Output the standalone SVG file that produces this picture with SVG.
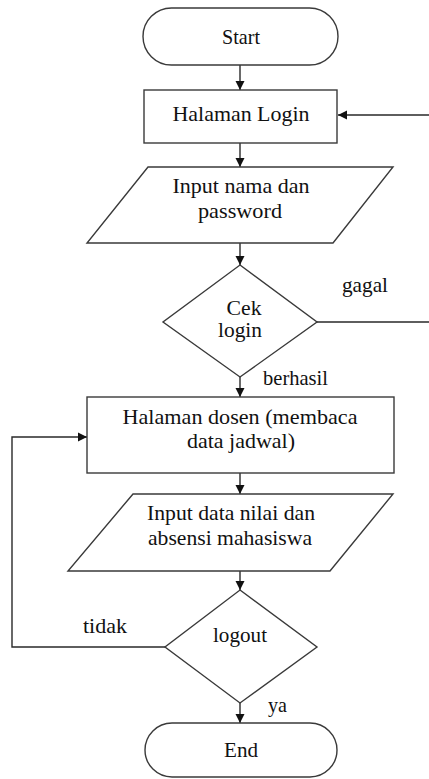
<svg xmlns="http://www.w3.org/2000/svg" width="429" height="779" viewBox="0 0 429 779">
<style>
.s{fill:#fff;stroke:#3a3a3a;stroke-width:1.4}
.c{fill:none;stroke:#2a2a2a;stroke-width:1.4}
.t{font-family:'Liberation Serif','DejaVu Serif',serif;font-size:21px;fill:#111;text-anchor:middle}
.l{text-anchor:start}
</style>
<defs>
<marker id="ah" markerWidth="10" markerHeight="10" refX="9" refY="5" orient="auto" markerUnits="userSpaceOnUse">
<path d="M0,0.5 L9,5 L0,9.5 Z" fill="#111"/>
</marker>
</defs>
<rect width="429" height="779" fill="#fff"/>
<g id="connectors">
<line class="c" x1="240" y1="65" x2="240" y2="90" marker-end="url(#ah)"/>
<line class="c" x1="240" y1="143" x2="240" y2="167" marker-end="url(#ah)"/>
<line class="c" x1="240" y1="243" x2="240" y2="265" marker-end="url(#ah)"/>
<line class="c" x1="240" y1="377" x2="240" y2="397" marker-end="url(#ah)"/>
<line class="c" x1="240" y1="473" x2="240" y2="494" marker-end="url(#ah)"/>
<line class="c" x1="240" y1="571" x2="240" y2="590" marker-end="url(#ah)"/>
<line class="c" x1="240" y1="703" x2="240" y2="723" marker-end="url(#ah)"/>
<path class="c" d="M317 322 H432 V115 H338" marker-end="url(#ah)"/>
<path class="c" d="M165 647 H12 V437 H87" marker-end="url(#ah)"/>
<text class="t l" x="342" y="292" textLength="46" lengthAdjust="spacingAndGlyphs">gagal</text>
<text class="t l" x="263" y="385" textLength="65" lengthAdjust="spacingAndGlyphs">berhasil</text>
<text class="t l" x="83" y="633" textLength="44" lengthAdjust="spacingAndGlyphs">tidak</text>
<text class="t l" x="268" y="712" textLength="19" lengthAdjust="spacingAndGlyphs">ya</text>
</g>
<g id="start">
<rect class="s" x="143" y="8" width="195" height="57" rx="28.5" ry="28.5"/>
<text class="t" x="241" y="44" textLength="38" lengthAdjust="spacingAndGlyphs">Start</text>
</g>
<g id="halaman-login">
<rect class="s" x="144" y="90" width="193" height="53"/>
<text class="t" x="241" y="121" textLength="137" lengthAdjust="spacingAndGlyphs">Halaman Login</text>
</g>
<g id="input-login">
<polygon class="s" points="148,167 393,167 333,243 87,243"/>
<text class="t" x="241" y="193" textLength="137" lengthAdjust="spacingAndGlyphs">Input nama dan</text>
<text class="t" x="240" y="218" textLength="84" lengthAdjust="spacingAndGlyphs">password</text>
</g>
<g id="cek-login">
<polygon class="s" points="240,265 317,322 240,377 163,322"/>
<text class="t" x="244" y="315" textLength="35" lengthAdjust="spacingAndGlyphs">Cek</text>
<text class="t" x="240" y="337" textLength="44" lengthAdjust="spacingAndGlyphs">login</text>
</g>
<g id="halaman-dosen">
<rect class="s" x="87" y="397" width="307" height="76"/>
<text class="t" x="240" y="424" textLength="235" lengthAdjust="spacingAndGlyphs">Halaman dosen (membaca</text>
<text class="t" x="241" y="448" textLength="108" lengthAdjust="spacingAndGlyphs">data jadwal)</text>
</g>
<g id="input-nilai">
<polygon class="s" points="133,494 393,494 330,571 68,571"/>
<text class="t" x="231" y="520" textLength="168" lengthAdjust="spacingAndGlyphs">Input data nilai dan</text>
<text class="t" x="230" y="545" textLength="164" lengthAdjust="spacingAndGlyphs">absensi mahasiswa</text>
</g>
<g id="logout">
<polygon class="s" points="240,590 317,647 240,703 165,647"/>
<text class="t" x="240" y="642" textLength="54" lengthAdjust="spacingAndGlyphs">logout</text>
</g>
<g id="end">
<rect class="s" x="145" y="723" width="192" height="54" rx="27" ry="27"/>
<text class="t" x="241" y="757" textLength="34" lengthAdjust="spacingAndGlyphs">End</text>
</g>
</svg>
